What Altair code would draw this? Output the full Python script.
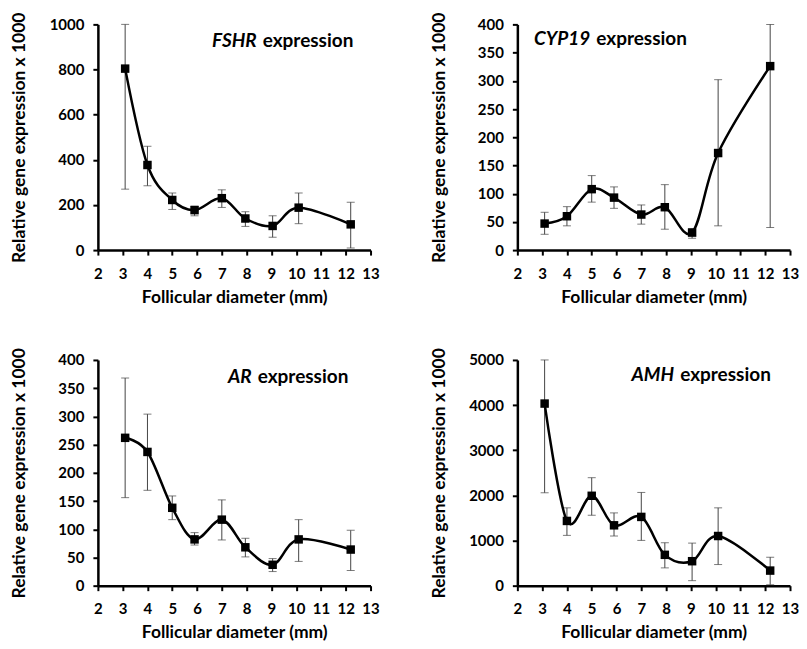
import altair as alt
import pandas as pd

# Follicular diameter (mm) of each size class
diam = [3.1, 4.0, 5.0, 5.9, 7.0, 7.95, 9.05, 10.1, 12.2]

fshr_mean = [804, 377, 222, 177, 230, 140, 107, 188, 114]
fshr_lo = [270, 285, 180, 152, 189, 105, 57, 117, 9]
fshr_hi = [1000, 460, 253, 195, 267, 170, 152, 253, 212]

cyp19_mean = [47, 60, 108, 93, 63, 76, 31, 172, 326]
cyp19_lo = [28, 43, 85, 74, 46, 37, 21, 43, 40]
cyp19_hi = [67, 77, 132, 112, 80, 116, 38, 302, 400]

ar_mean = [262, 237, 138, 82, 117, 68, 37, 82, 64]
ar_lo = [156, 169, 117, 72, 81, 51, 25, 43, 27]
ar_hi = [368, 304, 159, 94, 152, 84, 48, 117, 98]

amh_mean = [4034, 1434, 1991, 1337, 1523, 683, 542, 1100, 334]
amh_lo = [2058, 1114, 1560, 1100, 1003, 394, 111, 468, 20]
amh_hi = [5000, 1724, 2392, 1612, 2065, 951, 943, 1724, 632]

x_ticks = list(range(2, 14))

W, H = 273, 226
FONT = "Lato"


def panel(gene, mean, lo, hi, ymax, ystep, split, by):
    df = pd.DataFrame({"d": diam, "m": mean, "lo": lo, "hi": hi})
    base = alt.Chart(df)
    xscale = alt.Scale(domain=[2, 13], nice=False, zero=False)
    xaxis = alt.Axis(values=x_ticks, title="Follicular diameter (mm)", format="d",
                     labelOverlap=False, labelFlush=False)
    yscale = alt.Scale(domain=[0, ymax], nice=False)
    yaxis = alt.Axis(
        values=list(range(0, ymax + 1, ystep)),
        format="d",
        labelOverlap=False,
        labelFlush=False,
        title="Relative gene expression x 1000",
        titleX=-78,
        titleY=H / 2,
        titleAlign="center",
        titleBaseline="middle",
        titleAngle=270,
    )

    def X():
        return alt.X("d:Q", scale=xscale, axis=xaxis)

    def Y(f):
        return alt.Y(f, scale=yscale, axis=yaxis)

    rule = base.mark_rule(color="#444", strokeWidth=1).encode(x=X(), y=Y("lo:Q"), y2="hi:Q")
    cap_lo = base.mark_tick(color="#444", thickness=1, size=8, orient="horizontal").encode(x=X(), y=Y("lo:Q"))
    cap_hi = base.mark_tick(color="#444", thickness=1, size=8, orient="horizontal").encode(x=X(), y=Y("hi:Q"))
    line = base.mark_line(color="black", strokeWidth=2.5, interpolate="cardinal").encode(x=X(), y=Y("m:Q"))
    pts = base.mark_square(color="black", size=72, opacity=1).encode(x=X(), y=Y("m:Q"))
    t1 = alt.Chart(alt.Data(values=[{"t": gene}])).mark_text(
        font=FONT, fontSize=19, fontWeight="bold", fontStyle="italic", align="right", baseline="alphabetic", color="black"
    ).encode(text="t:N", x=alt.value(split - 6), y=alt.value(by))
    t2 = alt.Chart(alt.Data(values=[{"t": "expression"}])).mark_text(
        font=FONT, fontSize=19, fontWeight="bold", align="left", baseline="alphabetic", color="black"
    ).encode(text="t:N", x=alt.value(split), y=alt.value(by))
    return alt.layer(rule, cap_lo, cap_hi, line, pts, t1, t2).properties(width=W, height=H)


p1 = panel("FSHR", fshr_mean, fshr_lo, fshr_hi, 1000, 200, 165, 23)
p2 = panel("CYP19", cyp19_mean, cyp19_lo, cyp19_hi, 400, 50, 79, 21)
p3 = panel("AR", ar_mean, ar_lo, ar_hi, 400, 50, 160, 23)
p4 = panel("AMH", amh_mean, amh_lo, amh_hi, 5000, 1000, 163, 21)

chart = alt.vconcat(
    alt.hconcat(p1, p2, spacing=50),
    alt.hconcat(p3, p4, spacing=50),
    spacing=41,
).properties(
    padding={"left": 2, "top": 3, "right": 0, "bottom": 0}
).configure_view(stroke=None).configure_axis(
    grid=False,
    domainColor="black",
    domainWidth=2.5,
    tickColor="black",
    tickWidth=2,
    tickSize=5,
    labelFont=FONT,
    labelFontSize=15,
    labelFontWeight="bold",
    labelColor="black",
    titleFont=FONT,
    titleFontSize=17.5,
    titleFontWeight="bold",
    titleColor="black",
).configure_axisX(labelPadding=11, titlePadding=7).configure_axisY(labelPadding=9)

chart.save("out.html", embed_options={"renderer": "svg", "actions": False})
